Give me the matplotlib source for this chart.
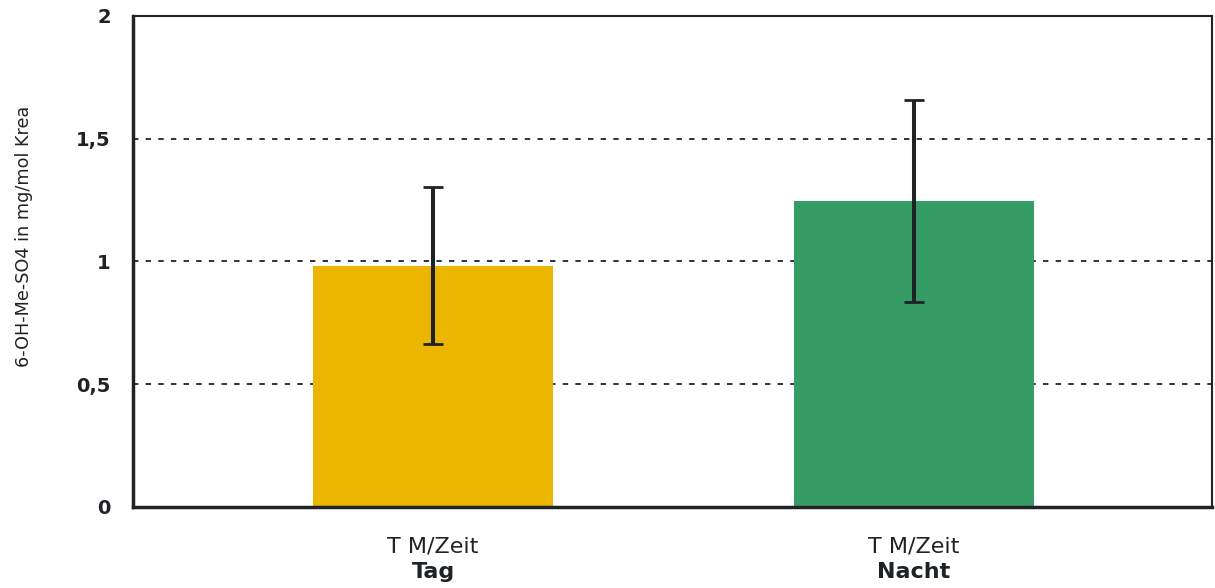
import matplotlib.pyplot as plt
from matplotlib.transforms import blended_transform_factory

categories = ["Tag", "Nacht"]
group_label = "T M/Zeit"
values = [0.982, 1.246]
errors = [0.32, 0.41]
colors = ["#ECB500", "#359C66"]
yticks = [0, 0.5, 1, 1.5, 2]
ytick_labels = ["0", "0,5", "1", "1,5", "2"]

plt.rcParams['font.family'] = ['DejaVu Sans']
dark = "#1f2326"

fig = plt.figure(figsize=(12.15, 5.88), dpi=100)
ax = fig.add_axes([0.1095, 0.1378, 0.888, 0.835])

x = list(range(len(categories)))
ax.bar(x, values, width=0.5, color=colors, zorder=2)
ax.errorbar(x, values, yerr=errors, fmt='none', ecolor=dark,
            elinewidth=2.9, capsize=7, capthick=2, zorder=3)

ax.set_xlim(-0.624, 1.62)
ax.set_ylim(0, 2)
ax.set_yticks(yticks)
ax.set_yticklabels(ytick_labels, fontsize=14, fontweight='bold', color=dark)
ax.tick_params(axis='y', length=0, pad=16)
ax.set_xticks([])
for y in yticks[1:-1]:
    ax.axhline(y, color=dark, linestyle=(0, (3, 4)), linewidth=1.3, zorder=1)

ax.spines['left'].set_linewidth(2.5)
ax.spines['bottom'].set_linewidth(2.5)
ax.spines['top'].set_linewidth(1.5)
ax.spines['right'].set_linewidth(1.5)
for s in ax.spines.values():
    s.set_color(dark)

trans = blended_transform_factory(ax.transData, fig.transFigure)
for xi, cat in zip(x, categories):
    ax.text(xi, 1 - 546 / 588, group_label, transform=trans, ha='center',
            va='center', fontsize=16, color=dark)
    ax.text(xi, 1 - 572 / 588, cat, transform=trans, ha='center',
            va='center', fontsize=16, fontweight='bold', color=dark)

ax.set_ylabel("6-OH-Me-SO4 in mg/mol Krea", fontsize=12.7, color=dark)
ax.yaxis.set_label_coords(-0.093, 0.552)

fig.savefig("out.png", dpi=100)
